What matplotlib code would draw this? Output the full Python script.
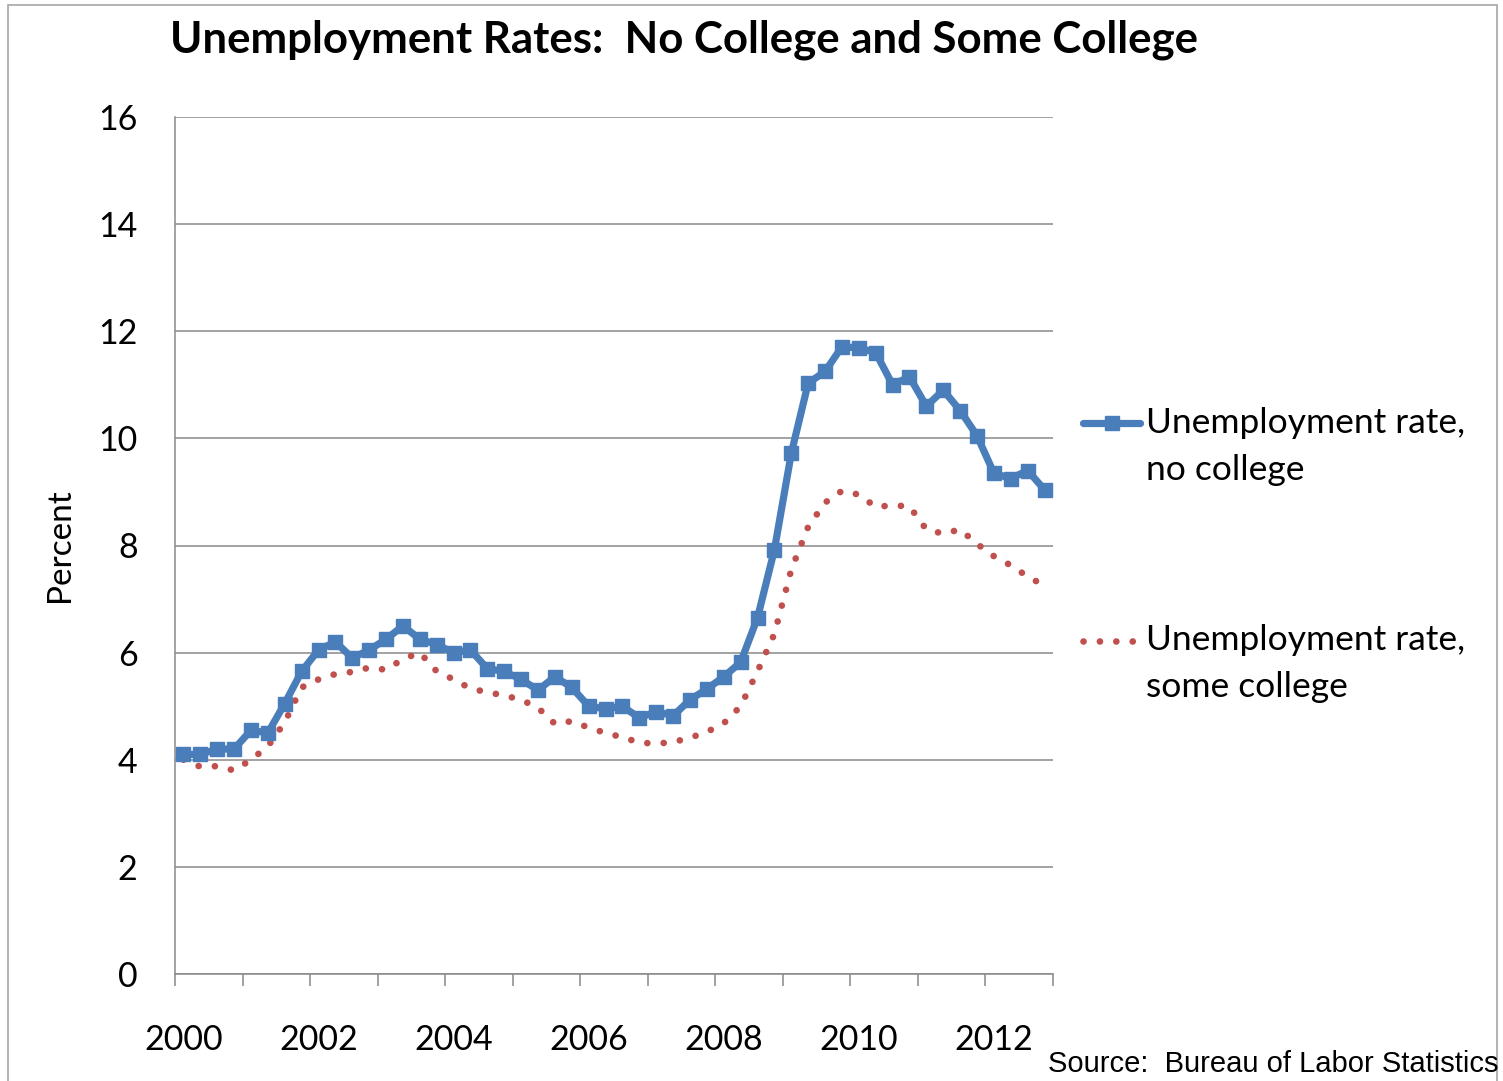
import matplotlib
matplotlib.use("Agg")
import matplotlib.pyplot as plt
from matplotlib.lines import Line2D
from matplotlib.patches import Rectangle
import numpy as np

# Quarterly unemployment rates, 2000Q1 - 2012Q4 (percent)
years = list(range(2000, 2013))
quarters = [f"{y}Q{q}" for y in years for q in range(1, 5)]

no_college = [
    4.10, 4.10, 4.20, 4.20, 4.55, 4.50, 5.05, 5.65,
    6.05, 6.20, 5.90, 6.05, 6.25, 6.50, 6.25, 6.15,
    6.00, 6.05, 5.70, 5.65, 5.50, 5.30, 5.55, 5.35,
    5.00, 4.95, 5.00, 4.78, 4.90, 4.82, 5.12, 5.32,
    5.55, 5.82, 6.65, 7.92, 9.72, 11.03, 11.25, 11.71,
    11.69, 11.60, 11.00, 11.15, 10.60, 10.90, 10.52, 10.05,
    9.35, 9.25, 9.40, 9.04,
]

some_college = [
    4.00, 3.87, 3.88, 3.80, 4.00, 4.25, 4.70, 5.35,
    5.50, 5.60, 5.64, 5.72, 5.68, 5.88, 6.00, 5.65,
    5.50, 5.33, 5.26, 5.20, 5.12, 4.97, 4.67, 4.72,
    4.60, 4.50, 4.42, 4.32, 4.30, 4.33, 4.41, 4.52,
    4.68, 5.00, 5.65, 6.35, 7.55, 8.35, 8.80, 9.02,
    8.95, 8.72, 8.75, 8.73, 8.30, 8.22, 8.30, 8.03,
    7.80, 7.63, 7.42, 7.25,
]

year_labels = ["2000", "2002", "2004", "2006", "2008", "2010", "2012"]
y_ticks = [0, 2, 4, 6, 8, 10, 12, 14, 16]

series_names = ["Unemployment rate,\nno college", "Unemployment rate,\nsome college"]
title = "Unemployment Rates:  No College and Some College"
source_note = "Source:  Bureau of Labor Statistics"

BLUE = "#4A7EBB"
RED = "#C0504D"
GRID = "#898989"
FONT = ["Lato", "DejaVu Sans"]

W, H = 1503, 1081
fig = plt.figure(figsize=(W / 100, H / 100), dpi=100)
plt.rcParams["font.family"] = FONT


def fx(px):
    return px / W


def fy(py):
    return 1 - py / H


# outer chart frame
fig.add_artist(Rectangle((fx(7.5), -0.05), fx(1497 - 7.5), fy(5) + 0.05,
                         transform=fig.transFigure, fill=False,
                         edgecolor="#A6A6A6", linewidth=1.2))

ax = fig.add_axes([fx(175), fy(974), fx(1053 - 175), (974 - 117) / H])

x = np.arange(len(quarters))
dot_style = dict(color=RED, linewidth=4.8, linestyle=(0, (0.01, 2.45)),
                 dash_capstyle="round")
line_style = dict(color=BLUE, linewidth=5.2, marker="s", markersize=9.5,
                  solid_joinstyle="round", solid_capstyle="round")

ax.plot(x, some_college, zorder=3, **dot_style)
ax.plot(x, no_college, zorder=4, **line_style)

ax.set_xlim(-0.5, len(quarters) - 0.5)
ax.set_ylim(0, 16)
ax.set_yticks(y_ticks)
ax.set_yticklabels([str(v) for v in y_ticks])
ax.yaxis.grid(True, color=GRID, linewidth=1.1)
ax.set_axisbelow(True)

label_pos = [quarters.index(f"{y}Q1") for y in year_labels]
ax.set_xticks(label_pos)
ax.set_xticklabels(year_labels)
ax.set_xticks(np.arange(-0.5, len(quarters), 4), minor=True)
ax.tick_params(axis="x", which="major", length=0, pad=36, labelsize=24.5)
ax.tick_params(axis="x", which="minor", length=8.6, width=1.1, color=GRID,
               direction="out")
ax.tick_params(axis="y", length=0, pad=27, labelsize=24.5)

for side in ("top", "right"):
    ax.spines[side].set_visible(False)
for side in ("left", "bottom"):
    ax.spines[side].set_color(GRID)
    ax.spines[side].set_linewidth(1.1)

fig.text(fx(60), fy(545), "Percent", rotation=90, ha="center", va="center",
         fontsize=24)

fig.text(fx(684), fy(52), title, ha="center", va="baseline",
         fontsize=31.5, fontweight="bold")

# legend at the right of the plot
fig.add_artist(Line2D([fx(1083), fx(1111.5), fx(1140)], [fy(423)] * 3,
                      transform=fig.transFigure, markevery=[1], **line_style))
fig.add_artist(Line2D([fx(1083), fx(1136)], [fy(641)] * 2,
                      transform=fig.transFigure, **dot_style))
for name, base in zip(series_names, (433, 650)):
    first, second = name.split("\n")
    fig.text(fx(1146), fy(base), first, ha="left", va="baseline", fontsize=25.5)
    fig.text(fx(1146), fy(base + 47), second, ha="left", va="baseline",
             fontsize=25.5)

fig.text(fx(1048), fy(1072), source_note, ha="left", va="baseline",
         fontsize=21, family=["Liberation Sans", "DejaVu Sans"])

fig.savefig("out.png", dpi=100, facecolor="white")
